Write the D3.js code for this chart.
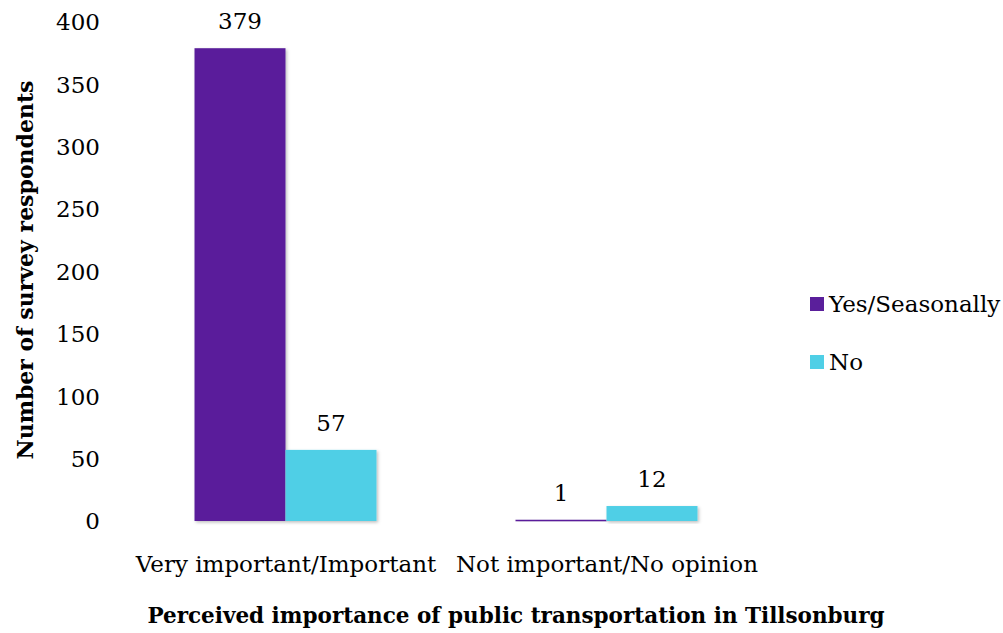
<!DOCTYPE html>
<html>
<head>
<meta charset="utf-8">
<script src="https://cdn.jsdelivr.net/npm/d3@7"></script>
<style>
  body { margin: 0; background: #fff; }
  svg text { font-family: "DejaVu Serif", "Liberation Serif", serif; fill: #000; }
</style>
</head>
<body>
<div id="chart"></div>
<script>
// Perceived importance of public transportation - grouped bars
const categories = ['Very important/Important', 'Not important/No opinion'];
const seriesNames = ['Yes/Seasonally', 'No'];
const yesValues = [379, 1];
const noValues = [57, 12];
const yTicks = [0, 50, 100, 150, 200, 250, 300, 350, 400];
const colors = ['#5a1f9b', '#4fcfe6'];

const width = 1003;
const height = 633;
const fs = 23;

const svg = d3.select('#chart')
  .append('svg')
  .attr('width', width)
  .attr('height', height);

const defs = svg.append('defs');
const shadow = defs.append('filter').attr('id', 'shadow')
  .attr('x', '-10%').attr('y', '-10%').attr('width', '130%').attr('height', '130%');
shadow.append('feDropShadow')
  .attr('dx', 1.5).attr('dy', 1.5).attr('stdDeviation', 1.5)
  .attr('flood-color', '#000').attr('flood-opacity', 0.25);

const x0 = d3.scaleBand()
  .domain(categories)
  .range([125.5, 767.5]);

const x1 = d3.scaleBand()
  .domain(seriesNames)
  .range([69, 69 + 182]);

const y = d3.scaleLinear()
  .domain([0, 400])
  .range([521, 22]);

// build rows
const rows = categories.map((c, i) => ({
  category: c,
  values: [
    { key: seriesNames[0], value: yesValues[i], color: colors[0] },
    { key: seriesNames[1], value: noValues[i], color: colors[1] }
  ]
}));

// y tick labels
svg.append('g')
  .selectAll('text')
  .data(yTicks)
  .enter().append('text')
  .attr('x', 100)
  .attr('y', d => y(d))
  .attr('dy', '0.36em')
  .attr('text-anchor', 'end')
  .attr('font-size', fs)
  .text(d => d);

// bars
const group = svg.append('g')
  .selectAll('g')
  .data(rows)
  .enter().append('g')
  .attr('transform', d => `translate(${x0(d.category)},0)`);

group.selectAll('rect')
  .data(d => d.values)
  .enter().append('rect')
  .attr('x', d => x1(d.key))
  .attr('y', d => y(d.value))
  .attr('width', x1.bandwidth())
  .attr('height', d => Math.max(1.5, y(0) - y(d.value)))
  .attr('fill', d => d.color)
  .attr('filter', 'url(#shadow)');

// value labels
group.selectAll('text')
  .data(d => d.values)
  .enter().append('text')
  .attr('x', d => x1(d.key) + x1.bandwidth() / 2)
  .attr('y', d => y(d.value) - 19)
  .attr('text-anchor', 'middle')
  .attr('font-size', fs)
  .text(d => d.value);

// category labels
svg.append('g')
  .selectAll('text')
  .data(categories)
  .enter().append('text')
  .attr('x', d => x0(d) + x0.bandwidth() / 2)
  .attr('y', 572)
  .attr('text-anchor', 'middle')
  .attr('font-size', fs)
  .text(d => d);

// axis titles
svg.append('text')
  .attr('x', 516)
  .attr('y', 623)
  .attr('text-anchor', 'middle')
  .attr('font-size', 21.5)
  .attr('font-weight', 'bold')
  .text('Perceived importance of public transportation in Tillsonburg');

svg.append('text')
  .attr('transform', 'translate(33,270) rotate(-90)')
  .attr('text-anchor', 'middle')
  .attr('font-size', 22)
  .attr('font-weight', 'bold')
  .text('Number of survey respondents');

// legend
const legend = svg.append('g')
  .selectAll('g')
  .data(seriesNames)
  .enter().append('g')
  .attr('transform', (d, i) => `translate(810,${297 + i * 58})`);

legend.append('rect')
  .attr('width', 14)
  .attr('height', 14)
  .attr('fill', (d, i) => colors[i]);

legend.append('text')
  .attr('x', 19)
  .attr('y', 7)
  .attr('dy', '0.36em')
  .attr('font-size', fs)
  .text(d => d);
</script>
</body>
</html>
